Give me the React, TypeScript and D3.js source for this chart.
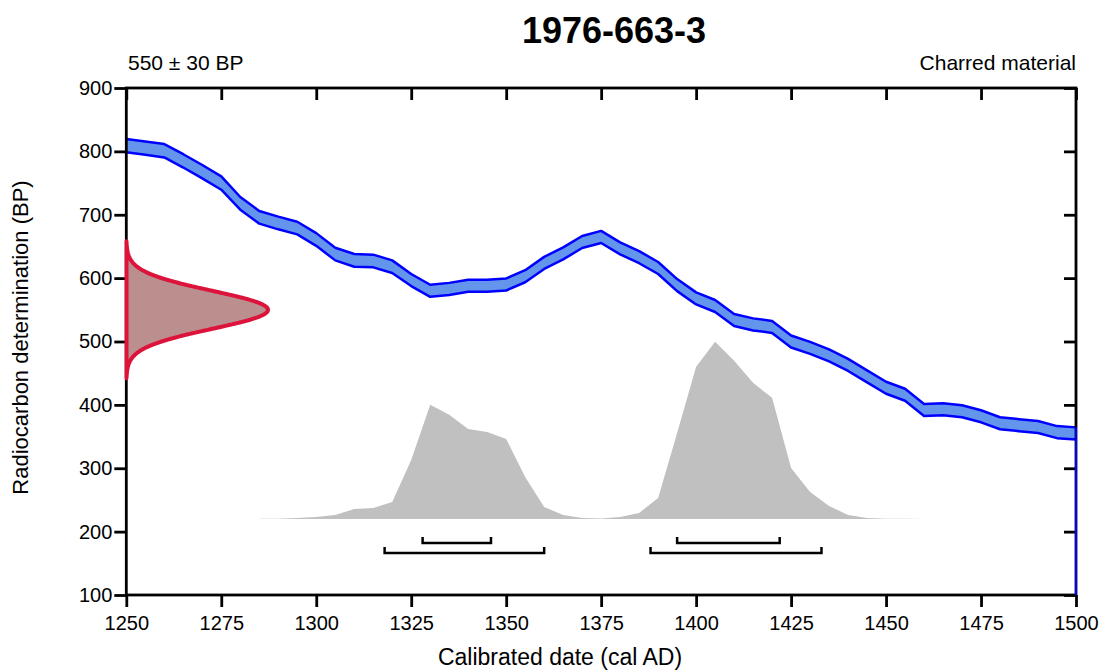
import React, { useEffect, useRef } from "react";
import * as d3 from "d3";

// calibration curve (IntCal-style), every 5 years
const curveYears = [
  1250, 1255, 1260, 1265, 1270, 1275, 1280, 1285, 1290, 1295,
  1300, 1305, 1310, 1315, 1320, 1325, 1330, 1335, 1340, 1345,
  1350, 1355, 1360, 1365, 1370, 1375, 1380, 1385, 1390, 1395,
  1400, 1405, 1410, 1415, 1420, 1425, 1430, 1435, 1440, 1445,
  1450, 1455, 1460, 1465, 1470, 1475, 1480, 1485, 1490, 1495, 1500,
];
const curveMean = [
  809, 805, 801, 785, 768, 750, 718, 696, 687, 679,
  661, 638, 628, 627, 618, 597, 580, 583, 588, 588,
  590, 603, 624, 639, 657, 665, 647, 633, 616, 589,
  568, 556, 534, 527, 523, 500, 490, 478, 463, 445,
  427, 416, 392, 393, 390, 382, 371, 368, 365, 357, 355,
];
const curveSigma = [
  10.5, 10.5, 10.5, 10.5, 10.5, 10.5, 10, 10, 10, 10,
  10, 10, 10, 10, 10, 9.5, 9.5, 9.5, 9.5, 9.5,
  9.5, 9.5, 9.5, 9.5, 9.5, 9.5, 9.5, 9.5, 9.5, 9.5,
  9.5, 9.5, 9.5, 9.5, 9.5, 9.5, 9.5, 9.5, 9.5, 9.5,
  9.5, 9.5, 9.5, 9.5, 9.5, 9.5, 9.5, 9.5, 9.5, 9.5, 9.5,
];

// calibrated probability (relative)
const probYears = [
  1285, 1290, 1295, 1300, 1305, 1310, 1315, 1320, 1325, 1330,
  1335, 1340, 1345, 1350, 1355, 1360, 1365, 1370, 1375, 1380,
  1385, 1390, 1395, 1400, 1405, 1410, 1415, 1420, 1425, 1430,
  1435, 1440, 1445, 1450, 1455, 1460,
];
const probValues = [
  0.1, 0.3, 1, 2, 4, 10, 11, 17, 59, 114,
  104, 90, 87, 80, 42, 12, 4, 1, 0.5, 2,
  6, 21, 86, 152, 177, 158, 136, 121, 51, 27,
  13, 4, 1, 0.3, 0.1, 0,
];

// highest probability density ranges
const range68 = [[1328, 1346], [1395, 1422]];
const range95 = [[1318, 1360], [1388, 1433]];

const sampleMean = 550;
const sampleSigma = 30;

const xTicks = [1250, 1275, 1300, 1325, 1350, 1375, 1400, 1425, 1450, 1475, 1500];
const yTicks = [100, 200, 300, 400, 500, 600, 700, 800, 900];

const FONT = "'Liberation Sans', Arial, Helvetica, sans-serif";

export default function App() {
  const W = 1101;
  const H = 670;
  const x = d3.scaleLinear().domain([1250, 1500]).range([126.3, 1076]);
  const y = d3.scaleLinear().domain([100, 900]).range([595, 88]);

  const bottomRef = useRef<SVGGElement>(null);
  const leftRef = useRef<SVGGElement>(null);
  const topRef = useRef<SVGGElement>(null);
  const rightRef = useRef<SVGGElement>(null);

  useEffect(() => {
    const style = (g: any) => {
      g.select(".domain").remove();
      g.selectAll(".tick line").attr("stroke", "#000").attr("stroke-width", 2.8);
      g.attr("font-size", 20).attr("font-family", FONT);
      g.selectAll(".tick text").attr("fill", "#000");
    };
    d3.select(bottomRef.current!)
      .call(d3.axisBottom(x).tickValues(xTicks).tickSize(12).tickPadding(9).tickFormat(d3.format("d")) as any)
      .call(style);
    d3.select(leftRef.current!)
      .call(d3.axisLeft(y).tickValues(yTicks).tickSize(12).tickPadding(2).tickFormat(d3.format("d")) as any)
      .call(style);
    d3.select(topRef.current!)
      .call(d3.axisTop(x).tickValues(xTicks).tickSize(-12).tickFormat(() => "") as any)
      .call(style);
    d3.select(rightRef.current!)
      .call(d3.axisRight(y).tickValues(yTicks).tickSize(-12).tickFormat(() => "") as any)
      .call(style);
  }, []);

  const curve = curveYears.map((yr, i) => ({ yr, m: curveMean[i], s: curveSigma[i] }));
  const band = d3
    .area<any>()
    .x((d) => x(d.yr))
    .y0((d) => y(d.m - d.s))
    .y1((d) => y(d.m + d.s))(curve)!;
  const upper = d3.line<any>().x((d) => x(d.yr)).y((d) => y(d.m + d.s))(curve)!;
  const lower = d3.line<any>().x((d) => x(d.yr)).y((d) => y(d.m - d.s))(curve)!;
  const last = curve[curve.length - 1];

  // measured date as normal distribution on the y axis
  const gaussPts = d3.range(sampleMean - 3.6 * sampleSigma, sampleMean + 3.6 * sampleSigma + 0.5, 1);
  const gWidth = x(1287.3) - x(1250);
  const gauss =
    d3
      .line<number>()
      .x((bp) => x(1250) + gWidth * Math.exp(-0.5 * ((bp - sampleMean) / sampleSigma) ** 2))
      .y((bp) => y(bp))(gaussPts)! + "Z";

  // calibrated distribution
  const baseBP = 220;
  const pMax = d3.max(probValues)!;
  const py = d3.scaleLinear().domain([0, pMax]).range([y(baseBP), y(499.5)]);
  const prob = d3
    .area<number>()
    .x((_, i) => x(probYears[i]))
    .y0(y(baseBP))
    .y1((v) => py(v))(probValues)!;

  const bracket = (r: number[], yy: number) =>
    `M${x(r[0])},${yy - 6}V${yy}H${x(r[1])}V${yy - 6}`;
  const row68 = y(baseBP) + 24;
  const row95 = y(baseBP) + 34;

  return (
    <svg
      width={W}
      height={H}
      style={{ position: "absolute", left: 0, top: 0, background: "#fff" }}
      fontFamily={FONT}
    >
      <path d={band} fill="#6495ED" />
      <path d={upper} fill="none" stroke="#0000FF" strokeWidth={2.5} strokeLinejoin="round" />
      <path d={lower} fill="none" stroke="#0000FF" strokeWidth={2.5} strokeLinejoin="round" />

      <path d={prob} fill="#C0C0C0" />

      <g fill="none" stroke="#000" strokeWidth={2.5}>
        {range68.map((r, i) => (
          <path key={"a" + i} d={bracket(r, row68)} />
        ))}
        {range95.map((r, i) => (
          <path key={"b" + i} d={bracket(r, row95)} />
        ))}
      </g>

      <rect
        x={x(1250)}
        y={y(900)}
        width={x(1500) - x(1250)}
        height={y(100) - y(900)}
        fill="none"
        stroke="#000"
        strokeWidth={2.8}
      />
      <g ref={bottomRef} transform={`translate(0,${y(100)})`} />
      <g ref={leftRef} transform={`translate(${x(1250)},0)`} />
      <g ref={topRef} transform={`translate(0,${y(900)})`} />
      <g ref={rightRef} transform={`translate(${x(1500)},0)`} />

      <line
        x1={x(1500)}
        x2={x(1500)}
        y1={y(last.m + last.s)}
        y2={y(100)}
        stroke="#0000FF"
        strokeWidth={2}
      />

      <path d={gauss} fill="#BC8F8F" stroke="#DC143C" strokeWidth={4} strokeLinejoin="round" />

      <text x={614} y={43} textAnchor="middle" fontSize={36} fontWeight="bold">
        1976-663-3
      </text>
      <text x={128} y={70} fontSize={21}>
        550 ± 30 BP
      </text>
      <text x={1076} y={70} fontSize={21} textAnchor="end">
        Charred material
      </text>
      <text x={560} y={665} textAnchor="middle" fontSize={23}>
        Calibrated date (cal AD)
      </text>
      <text transform={`translate(28,${y(500) - 4}) rotate(-90)`} textAnchor="middle" fontSize={22}>
        Radiocarbon determination (BP)
      </text>
    </svg>
  );
}
